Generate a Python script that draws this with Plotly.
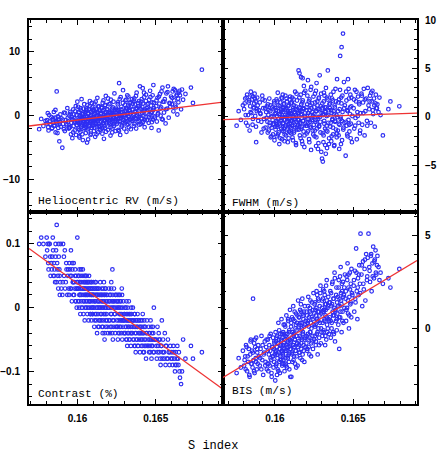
import plotly.graph_objects as go

# ---------------- data ----------------
s_index = [
    0.15755, 0.15768, 0.15782, 0.15795,
    0.15803, 0.15810, 0.15815, 0.15822, 0.15828, 0.15833, 0.15838, 0.15842, 0.15846, 0.15849,
    0.15853, 0.15857, 0.15860, 0.15863, 0.15867, 0.15870, 0.15874, 0.15877, 0.15880, 0.15884, 0.15887, 0.15890, 0.15893, 0.15897,
    0.15903, 0.15908, 0.15914, 0.15919, 0.15925, 0.15930, 0.15935, 0.15940, 0.15944, 0.15948,
    0.15952, 0.15955, 0.15958, 0.15961, 0.15964, 0.15967, 0.15970, 0.15973, 0.15976, 0.15979, 0.15982, 0.15985, 0.15988, 0.15991, 0.15993, 0.15995, 0.15997, 0.15999,
    0.16002, 0.16004, 0.16006, 0.16008, 0.16010, 0.16012, 0.16014, 0.16016, 0.16018, 0.16020, 0.16022, 0.16024, 0.16026, 0.16028, 0.16030, 0.16032, 0.16034, 0.16036, 0.16038, 0.16040, 0.16042, 0.16044, 0.16046, 0.16048,
    0.16051, 0.16053, 0.16055, 0.16057, 0.16059, 0.16061, 0.16063, 0.16065, 0.16067, 0.16069, 0.16071, 0.16073, 0.16075, 0.16077, 0.16079, 0.16081, 0.16083, 0.16085, 0.16087, 0.16089, 0.16091, 0.16093, 0.16095, 0.16096, 0.16098, 0.16099,
    0.16101, 0.16103, 0.16105, 0.16107, 0.16109, 0.16111, 0.16113, 0.16115, 0.16117, 0.16119, 0.16121, 0.16123, 0.16125, 0.16127, 0.16129, 0.16131, 0.16133, 0.16135, 0.16137, 0.16139, 0.16141, 0.16143, 0.16145, 0.16148,
    0.16151, 0.16153, 0.16155, 0.16157, 0.16159, 0.16161, 0.16163, 0.16165, 0.16167, 0.16169, 0.16171, 0.16173, 0.16175, 0.16177, 0.16179, 0.16181, 0.16183, 0.16185, 0.16188, 0.16191, 0.16194, 0.16197,
    0.16201, 0.16203, 0.16206, 0.16208, 0.16211, 0.16213, 0.16216, 0.16218, 0.16221, 0.16223, 0.16226, 0.16228, 0.16231, 0.16233, 0.16236, 0.16238, 0.16241, 0.16243, 0.16246, 0.16248,
    0.16251, 0.16253, 0.16256, 0.16258, 0.16261, 0.16263, 0.16266, 0.16268, 0.16271, 0.16273, 0.16276, 0.16278, 0.16281, 0.16283, 0.16286, 0.16288, 0.16291, 0.16293, 0.16296, 0.16298,
    0.16301, 0.16303, 0.16306, 0.16308, 0.16311, 0.16313, 0.16316, 0.16318, 0.16321, 0.16323, 0.16326, 0.16328, 0.16331, 0.16333, 0.16336, 0.16338, 0.16341, 0.16343, 0.16346, 0.16348,
    0.16351, 0.16354, 0.16357, 0.16360, 0.16363, 0.16366, 0.16369, 0.16372, 0.16375, 0.16378, 0.16381, 0.16384, 0.16387, 0.16390, 0.16393, 0.16395, 0.16397, 0.16399,
    0.16402, 0.16405, 0.16408, 0.16411, 0.16414, 0.16417, 0.16420, 0.16423, 0.16426, 0.16429, 0.16432, 0.16435, 0.16438, 0.16441, 0.16444, 0.16447,
    0.16452, 0.16455, 0.16458, 0.16461, 0.16464, 0.16467, 0.16470, 0.16473, 0.16476, 0.16479, 0.16482, 0.16485, 0.16488, 0.16492,
    0.16503, 0.16507, 0.16511, 0.16515, 0.16519, 0.16523, 0.16527, 0.16531, 0.16535, 0.16539, 0.16543, 0.16547,
    0.16553, 0.16558, 0.16563, 0.16568, 0.16573, 0.16578, 0.16583, 0.16588, 0.16593, 0.16598,
    0.16603, 0.16608, 0.16613, 0.16618, 0.16623, 0.16628, 0.16633, 0.16638, 0.16643, 0.16648,
    0.16655, 0.16662, 0.16668, 0.16675, 0.16690,
    0.16725, 0.16738, 0.16795,
    # second group of observations
    0.15806, 0.15813, 0.15819, 0.15826, 0.15836, 0.15844, 0.15851, 0.15859, 0.15866, 0.15872, 0.15879, 0.15886,
    0.15906, 0.15913, 0.15921, 0.15928, 0.15938, 0.15946, 0.15954, 0.15959, 0.15966, 0.15972, 0.15978, 0.15984, 0.15989, 0.15996,
    0.16003, 0.16007, 0.16011, 0.16015, 0.16019, 0.16023, 0.16027, 0.16031, 0.16035, 0.16039, 0.16043, 0.16045, 0.16047, 0.16049, 0.16050, 0.16013,
    0.16052, 0.16054, 0.16058, 0.16062, 0.16066, 0.16070, 0.16074, 0.16078, 0.16082, 0.16084, 0.16086, 0.16088, 0.16090, 0.16092, 0.16094, 0.16097, 0.16056, 0.16068,
    0.16102, 0.16104, 0.16108, 0.16110, 0.16112, 0.16116, 0.16118, 0.16120, 0.16122, 0.16126, 0.16128, 0.16132, 0.16134, 0.16136, 0.16138, 0.16142, 0.16144, 0.16147,
    0.16152, 0.16154, 0.16156, 0.16158, 0.16162, 0.16164, 0.16166, 0.16168, 0.16172, 0.16174, 0.16176, 0.16178, 0.16182, 0.16184, 0.16186, 0.16189, 0.16192, 0.16195,
    0.16202, 0.16205, 0.16207, 0.16210, 0.16212, 0.16215, 0.16217, 0.16220, 0.16222, 0.16225, 0.16227, 0.16230, 0.16232, 0.16235, 0.16240, 0.16245,
    0.16252, 0.16255, 0.16257, 0.16260, 0.16262, 0.16265, 0.16267, 0.16270, 0.16272, 0.16275, 0.16277, 0.16280, 0.16282, 0.16285, 0.16290, 0.16295,
    0.16302, 0.16305, 0.16307, 0.16310, 0.16312, 0.16315, 0.16317, 0.16320, 0.16322, 0.16325, 0.16327, 0.16330, 0.16332, 0.16335, 0.16340, 0.16345,
    0.16352, 0.16356, 0.16359, 0.16362, 0.16365, 0.16368, 0.16371, 0.16374, 0.16377, 0.16380, 0.16383, 0.16386, 0.16391, 0.16396,
    0.16403, 0.16407, 0.16410, 0.16413, 0.16416, 0.16419, 0.16422, 0.16425, 0.16428, 0.16431, 0.16437, 0.16443,
    0.16453, 0.16457, 0.16462, 0.16466, 0.16471, 0.16475, 0.16480, 0.16484, 0.16489, 0.16495,
    0.16505, 0.16513, 0.16521, 0.16529, 0.16537, 0.16545, 0.16555, 0.16565, 0.16575, 0.16590,
    0.16605, 0.16615, 0.16625, 0.16635, 0.16645, 0.16652,
]

rv = [
    -2.1, -0.5, -1.6, -0.8,
    -1.2, 0.4, -2.3, -0.9, -1.4, -0.2, -1.9, -0.6, -1.1, 0.6,
    -1.5, -0.3, -2.6, -0.8, 3.8, -1.2, -0.1, -1.9, -0.6, -4.0, -1.0, 0.2, -1.7, -0.4,
    -5.0, -1.3, 0.5, -2.4, -0.7, -1.5, 1.2, -0.9, -2.0, 0.0,
    -1.8, 0.3, -2.9, -1.1, -0.2, -3.5, -0.6, 1.0, -1.6, -0.4, -2.3, 0.7, -1.0, -3.0, 0.1, -1.4, -0.8, 2.2,
    -0.9, 1.4, -2.0, -0.3, -3.2, 0.5, -1.2, -0.1, -2.5, 0.9, -0.7, -1.7, 2.6, -0.4, -1.4, 0.2, -3.8, -0.8, 1.1, -2.1, -0.2, -1.0, 0.6, -1.5,
    -0.5, -2.7, 0.8, -1.3, -0.1, -4.2, 1.7, -0.9, 0.3, -2.0, -0.6, 1.0, -1.6, -0.3, 2.3, -1.1, -3.0, 0.1, -0.8, 0.6, -1.9, -0.4, 1.3, -1.2, -0.7, 0.9,
    -1.4, 0.7, -2.4, -0.2, 1.9, -0.9, -3.3, 0.4, -1.1, 1.1, -0.5, -1.8, 0.0, 2.8, -0.7, -2.6, 0.5, -1.3, 1.5, -0.4, -1.6, 0.8, -0.1, -2.1,
    0.3, -1.5, 1.2, -0.6, -2.8, 2.0, -0.2, -1.1, 0.9, -3.6, 0.1, -0.8, 1.6, -1.9, -0.3, 3.1, -1.2, 0.6, -0.5, 1.0, -2.2, 0.2,
    -0.7, 1.8, -1.4, 0.4, -3.1, 2.5, -0.1, -1.0, 0.8, -2.0, 1.3, -0.4, 0.1, -1.6, 3.5, -0.9, 0.5, -2.4, 1.1, -0.2,
    -1.3, 0.9, -0.5, 2.1, -2.2, 0.3, 5.1, -0.8, 0.0, -3.0, 2.9, -0.3, 1.0, -1.5, 0.6, -0.6, 4.0, -1.1, 0.2, -2.0,
    0.7, -1.2, 2.4, -0.4, 1.2, -2.5, 0.3, 3.2, -0.9, 1.6, -0.1, -1.8, 0.9, 2.0, -0.6, 0.4, -2.1, 1.4, -0.3, 2.6,
    -0.8, 1.9, 0.1, -1.6, 2.7, 0.6, -0.5, 1.1, -2.0, 3.6, 0.0, -1.0, 1.5, -0.2, 2.3, -1.4, 0.8, 4.6,
    0.3, -1.3, 2.2, -0.5, 1.4, 4.3, -0.9, 0.7, 2.9, -1.8, 1.0, -0.2, 3.3, 0.5, -0.7, 1.8,
    0.9, -1.1, 2.5, 0.2, 3.9, -0.4, 1.6, -1.9, 0.6, 2.1, -0.6, 4.8, 1.2, -0.1,
    1.5, -0.9, 2.8, 0.4, -2.3, 1.9, 3.4, 0.0, 1.3, -0.5, 4.4, 2.2,
    0.5, 2.6, -1.2, 3.5, 1.1, 4.6, -0.3, 2.0, 1.4, 3.0,
    1.8, 3.8, 0.7, 2.4, 4.0, 1.3, 3.1, 0.2, 2.7, 3.6,
    3.2, 1.0, 4.1, 2.5, 3.4,
    4.4, 2.0, 7.2,
    # second group
    -0.7, -1.8, 0.1, -1.3, -2.0, -0.4, -1.6, 0.9, -1.0, -2.7, -0.2, -1.3,
    -0.6, -2.1, 0.4, -1.3, -0.3, -1.9, 0.6, -1.1, -0.5, -2.6, 0.2, -0.9, 1.5, -1.5,
    -1.1, 0.6, -2.2, -0.5, 1.2, -1.5, -0.1, -2.9, 0.3, -0.8, 1.8, -1.9, -0.6, 0.4, -1.2, -3.4,
    -0.2, -1.7, 0.9, -1.0, -2.3, 0.4, -0.6, 1.5, -1.4, -0.1, -2.8, 0.7, -0.9, 2.0, -1.6, -0.3, 1.1, -3.7,
    -0.8, 1.0, -1.9, 0.2, -0.6, 2.2, -1.3, -0.1, -2.9, 0.6, -0.9, 1.4, -0.4, -1.7, 0.9, -0.2, -2.2, 0.3,
    -0.9, 1.3, -0.4, -2.0, 0.7, -1.2, 2.4, -0.2, -1.6, 0.5, -0.7, 1.7, -2.5, 0.0, -1.0, 1.0, -0.5, 2.7,
    -1.1, 0.6, -0.3, 1.9, -1.8, 0.2, -0.6, 1.1, -2.6, 0.4, -0.8, 2.2, -0.2, -1.3, 0.9, -0.5,
    0.5, -1.0, 1.8, -0.5, 0.9, -2.4, 0.2, 2.6, -0.9, 0.6, -0.3, 1.4, -1.7, 0.0, 2.0, -0.7,
    0.1, 1.7, -0.9, 0.8, 2.5, -0.4, 1.1, -1.4, 0.5, 3.0, -0.2, 1.3, -1.1, 0.7, 2.1, -0.5,
    1.0, -0.6, 2.4, 0.3, -1.3, 1.8, 0.6, 3.1, -0.4, 1.2, 0.0, 2.0, -0.8, 1.5,
    1.1, -0.4, 2.6, 0.4, -1.1, 1.9, 0.0, 3.6, 0.8, -0.6, 2.3, 1.2,
    1.9, -0.2, 1.0, 2.9, 0.4, -1.0, 3.2, 0.9, 2.0, -0.3,
    2.4, 0.2, 3.0, 1.1, 3.8, -0.6, 2.2, 1.0, 3.7, 1.9,
    2.8, 4.2, 1.6, 3.3, 2.1, 3.9,
]

fwhm = [
    -0.9, 0.6, -0.3, 1.2,
    0.8, 1.9, -0.6, 2.3, 0.2, 1.5, -1.4, 1.1, 2.6, 0.4,
    1.8, -0.8, 2.1, 0.9, 1.4, 2.4, 0.1, 1.6, -2.6, 0.6, 2.0, 1.2, -0.4, 0.7,
    1.5, 0.3, -1.6, 2.2, 0.9, -0.2, 1.7, -1.1, 0.5, 1.1,
    -0.5, 1.3, 0.2, -1.4, 1.9, -0.9, 0.6, -2.1, 0.0, -1.1, 1.0, -0.3, -1.8, 0.8, -0.7, 1.6, -2.4, 0.3,
    0.9, -1.3, 0.4, -0.6, 1.8, -2.0, 0.1, -1.0, 2.5, -0.2, 1.2, -1.6, 0.6, -2.8, 0.3, -0.9, 1.5, -0.4, 0.8, -1.2, 2.0, -0.1, -2.3, 1.0,
    -0.7, 0.5, -1.5, 1.3, -0.3, -2.5, 0.7, -1.1, 2.2, 0.0, -1.9, 0.9, -0.5, 1.6, -1.3, 0.2, -0.8, 1.1, -2.2, 0.4, -0.2, 1.8, -1.0, 0.6, -1.6, 0.1,
    -0.4, 1.4, -1.7, 0.3, -0.9, 2.0, 0.0, -2.4, 0.7, -0.6, 1.2, -1.4, 0.5, -0.2, 2.6, -1.1, 0.8, -2.9, 0.2, -0.5, 1.7, -1.3, 0.4, -0.8,
    4.8, -0.3, 1.0, 4.5, -1.9, 0.6, -0.7, 2.3, 4.1, -1.2, 0.3, -2.5, 1.5, 4.0, -0.4, 0.9, -1.5, 3.2, -3.1, 0.0, 2.7, -0.9,
    0.7, -1.7, 1.3, -0.2, 3.8, -0.6, 0.4, -2.3, 1.8, -1.0, 0.2, 2.8, -3.4, 0.9, -0.3, 1.4, -1.4, 0.1, 2.1, -0.8,
    1.0, -2.0, 2.4, -0.5, 0.6, -3.0, 3.5, -1.2, 1.6, -0.2, 0.8, -2.7, 2.0, -0.9, 4.3, 0.0, -1.6, 1.1, -3.6, 0.4,
    -4.3, 1.4, -4.6, 0.2, -1.9, 2.5, -0.7, 1.0, -2.9, 0.5, 3.0, -1.4, 0.1, -3.2, 1.8, 4.8, -0.6, 0.7, -2.2, 1.3,
    0.9, -1.0, 2.3, -2.5, 0.4, -0.3, 1.7, -1.8, 0.6, -3.0, 1.2, -0.5, 2.9, -1.3, 0.2, -2.1, 3.9, 0.0,
    -1.4, 1.5, -0.7, -3.3, 0.8, 6.3, -0.2, 2.0, 7.2, -2.4, 0.5, 8.6, -1.1, 3.6, -0.6, 1.2,
    -4.0, 2.6, -0.9, 0.7, -2.0, 3.9, -0.3, 1.9, -1.5, 0.3, 2.3, -0.7, 1.1, -2.6,
    0.9, -1.2, 2.8, -0.1, 1.6, -2.3, 0.5, 2.1, -0.6, 1.3, -1.7, 0.4,
    2.4, -0.8, 1.5, 2.9, -1.9, 0.6, 1.9, -0.4, 3.0, 1.2,
    0.8, 2.2, -0.6, 1.6, 2.7, 0.3, 1.9, -1.0, 1.4, 0.9,
    1.3, 0.5, 2.0, 0.2, -1.9,
    0.8, 1.6, 1.1,
    # second group
    1.4, 0.2, 2.0, -0.9, 1.7, 0.5, 2.2, -0.2, 1.0, 1.9, -1.0, 0.8,
    0.4, -0.5, 1.8, -1.2, 0.9, -0.1, -1.6, 0.7, -0.6, 1.2, -2.0, 0.1, -0.8, 1.4,
    -1.0, 0.7, -0.4, 1.6, -1.8, 0.3, -0.7, 1.1, -2.2, 0.5, -0.3, 1.9, -1.4, 0.0, 2.3, -0.8,
    0.9, -0.6, 1.4, -1.8, 0.2, -0.9, 1.9, -0.1, -2.6, 0.6, -0.4, 1.2, -1.5, 0.4, -0.7, 2.1, -1.2, 0.8,
    0.3, -1.1, 1.5, -0.4, -2.1, 0.9, -0.2, 1.8, -1.6, 0.5, -0.8, 1.1, -2.7, 0.0, 2.4, -1.0, 0.7, -0.3,
    0.4, -1.3, 2.0, -0.6, 0.9, -2.2, 0.2, 1.3, -1.0, 0.6, -2.8, 1.7, -0.4, 0.8, 2.5, -1.9, 0.1, -0.7,
    1.0, -0.9, 2.2, -1.5, 0.4, -0.2, 1.6, -2.6, 0.7, -0.5, 1.2, -1.1, 3.1, -0.1, 0.5, -1.8,
    0.3, -1.4, 1.5, -0.3, 2.7, -2.1, 0.6, -0.8, 1.2, -3.3, 0.0, 1.9, -1.0, 0.8, -0.5, 2.4,
    0.9, -1.7, 0.3, -2.6, 1.6, -0.4, 2.2, -1.2, 0.6, -3.8, 1.0, -0.9, 2.0, -1.5, 0.2, -2.8,
    1.4, -0.6, 0.7, -2.0, 1.9, -0.2, -1.1, 2.6, 0.3, -2.9, 1.0, -0.4, 1.6, -1.7,
    0.6, -1.9, 1.8, -0.8, 2.8, 0.0, -2.8, 1.4, -0.4, 2.2, -1.3, 0.9,
    -0.5, 1.7, -1.8, 0.6, 2.9, -0.8, 1.0, -2.2, 2.0, 0.1,
    1.8, -0.9, 2.6, 0.1, 1.5, -1.4, 2.2, 0.4, 1.8, -0.9,
    1.6, 2.5, 0.7, 1.2, 2.3, 0.9,
]

contrast = [
    0.10, 0.11, 0.10, 0.08,
    0.11, 0.10, 0.06, 0.10, 0.05, 0.07, 0.08, 0.11, 0.05, 0.07,
    0.06, 0.04, 0.10, 0.09, 0.13, 0.07, 0.05, 0.03, 0.08, 0.06, 0.02, 0.04, 0.10, 0.03,
    0.02, 0.10, 0.05, 0.09, 0.04, 0.06, 0.02, 0.06, 0.03, 0.07,
    0.06, 0.03, 0.09, 0.05, 0.01, 0.06, 0.04, 0.02, 0.07, 0.04, 0.03, 0.06, 0.01, 0.05, 0.03, 0.00, 0.04, 0.11,
    0.04, 0.01, 0.05, 0.03, 0.00, 0.06, 0.02, 0.04, -0.01, 0.03, 0.05, 0.01, 0.02, 0.04, 0.00, 0.03, 0.06, 0.02, -0.01, 0.04, 0.01, 0.03, -0.02, 0.05,
    0.02, 0.04, 0.00, 0.03, 0.05, 0.01, -0.01, 0.04, 0.02, 0.03, -0.02, 0.01, 0.04, 0.00, 0.02, -0.01, 0.03, 0.01, 0.04, -0.02, 0.02, 0.00, 0.03, -0.01, 0.01, 0.02,
    0.04, 0.00, 0.02, -0.03, 0.03, 0.01, -0.01, 0.04, 0.02, -0.02, 0.00, 0.03, -0.04, 0.01, 0.02, -0.01, 0.03, 0.00, -0.03, 0.02, 0.01, -0.02, 0.04, 0.00,
    0.02, -0.01, 0.03, -0.03, 0.01, -0.04, 0.02, 0.00, -0.02, 0.04, 0.01, -0.05, 0.02, -0.01, 0.03, -0.03, 0.00, 0.02, -0.02, 0.01, -0.04, 0.00,
    0.03, -0.02, 0.01, -0.04, 0.02, -0.01, 0.04, -0.03, 0.00, 0.06, -0.05, 0.01, -0.02, 0.03, -0.01, 0.00, -0.04, 0.02, -0.03, 0.01,
    0.00, -0.03, 0.02, -0.05, 0.01, -0.02, 0.00, -0.04, 0.02, -0.01, -0.03, 0.01, -0.02, 0.03, -0.05, 0.00, -0.02, 0.01, -0.04, -0.01,
    -0.01, -0.04, 0.00, -0.03, -0.05, 0.01, -0.02, -0.06, -0.01, -0.03, -0.04, 0.01, -0.02, -0.05, -0.01, -0.03, -0.06, 0.00, -0.04, -0.02,
    -0.03, 0.00, -0.05, -0.02, -0.06, -0.01, -0.04, -0.07, -0.02, -0.05, -0.03, -0.01, -0.06, -0.04, -0.02, -0.05, -0.03, -0.07,
    -0.04, -0.02, -0.06, -0.03, -0.05, -0.01, -0.07, -0.04, -0.02, -0.06, -0.03, -0.05, -0.08, -0.04, -0.02, -0.06,
    -0.05, -0.03, -0.07, -0.04, -0.06, -0.02, -0.05, -0.08, -0.04, -0.06, -0.03, -0.07, 0.00, -0.05,
    -0.05, -0.08, -0.03, -0.06, -0.04, -0.07, -0.05, -0.09, -0.06, -0.02, -0.08, -0.05,
    -0.07, -0.04, -0.09, -0.06, -0.08, -0.05, -0.07, -0.09, -0.06, -0.08,
    -0.07, -0.09, -0.06, -0.08, -0.10, -0.07, -0.09, -0.06, -0.08, -0.07,
    -0.11, -0.12, -0.10, -0.05, -0.08,
    -0.06, -0.08, -0.07,
    # second group
    0.09, 0.07, 0.10, 0.08, 0.06, 0.09, 0.05, 0.08, 0.04, 0.06, 0.10, 0.05,
    0.04, 0.08, 0.03, 0.07, 0.05, 0.02, 0.05, 0.03, 0.07, 0.04, 0.02, 0.05, 0.01, 0.03,
    0.03, 0.05, 0.01, 0.04, 0.02, 0.06, 0.00, 0.03, 0.05, 0.01, 0.03, 0.04, 0.02, 0.00, 0.05, 0.02,
    0.03, 0.01, 0.04, 0.02, 0.00, 0.03, 0.05, 0.01, 0.03, -0.01, 0.02, 0.04, 0.00, 0.02, 0.03, -0.01, 0.02, 0.04,
    0.02, 0.00, 0.03, -0.02, 0.01, 0.04, 0.02, -0.01, 0.03, 0.00, 0.02, -0.03, 0.01, 0.03, -0.02, 0.00, 0.02, -0.01,
    0.01, -0.02, 0.02, 0.00, -0.03, 0.03, 0.01, -0.01, 0.02, -0.04, 0.00, 0.03, -0.02, 0.01, -0.01, 0.02, -0.03, 0.00,
    0.01, -0.02, 0.02, -0.03, 0.00, 0.03, -0.01, 0.01, -0.04, 0.02, -0.02, 0.00, -0.03, 0.01, -0.01, 0.02,
    -0.02, 0.01, -0.03, 0.00, -0.04, 0.02, -0.01, -0.03, 0.01, -0.02, 0.00, -0.04, -0.01, 0.02, -0.03, -0.02,
    -0.02, -0.04, 0.00, -0.03, -0.01, -0.05, -0.02, 0.00, -0.04, -0.02, -0.03, -0.01, -0.05, -0.02, -0.04, -0.01,
    -0.04, -0.02, -0.05, -0.03, -0.01, -0.06, -0.03, -0.04, -0.02, -0.05, -0.03, -0.06, -0.02, -0.04,
    -0.03, -0.05, -0.04, -0.02, -0.06, -0.04, -0.03, -0.07, -0.05, -0.03, -0.06, -0.04,
    -0.06, -0.04, -0.05, -0.07, -0.03, -0.06, -0.05, -0.04, -0.07, -0.05,
    -0.06, -0.07, -0.05, -0.08, -0.06, -0.07, -0.08, -0.06, -0.08, -0.07,
    -0.08, -0.07, -0.09, -0.08, -0.09, -0.10,
]

bis = [
    -2.4, -1.6, -2.1, -1.2,
    -2.0, -1.5, -0.9, -2.3, -1.8, -1.1, -2.6, -1.4, -0.6, -1.9,
    -1.2, -2.1, 1.6, -1.7, -0.8, -2.4, -1.0, -1.6, -0.5, -2.2, -1.3, -1.9, -0.9, -1.5,
    -2.0, -1.1, -0.4, -1.7, -2.5, -1.3, -0.7, -1.8, -1.0, -2.2,
    -1.9, -0.6, -2.3, -1.4, -0.9, -2.0, -1.2, -0.3, -1.7, -2.6, -1.0, -1.5, -0.5, -2.1, -1.1, -1.8, -0.8, -1.4,
    -2.8, -0.2, -1.3, -0.7, -1.9, -1.0, -0.4, -1.6, -2.2, -0.8, 0.3, -1.3, -0.6, -1.8, -1.1, -2.4, -0.3, -1.5, -0.9, -1.7, 0.5, -1.2, -2.0, -0.5,
    -1.4, -0.2, -1.9, -0.8, -1.1, -2.3, 0.2, -0.6, -1.6, -0.4, -1.2, 0.7, -0.9, -2.1, -0.3, -1.5, -0.7, 0.4, -1.0, -1.8, -0.1, -1.3, -0.6, 1.0, -2.6, -0.8,
    -1.1, 0.1, -2.6, -0.5, 0.6, -1.4, -0.2, -0.9, 1.2, -1.7, -0.3, -1.0, 0.4, -0.6, -1.9, 0.0, -1.2, 0.8, -0.4, -1.5, 0.3, -0.8, -2.0, 1.5,
    -0.7, 0.6, -1.3, 0.2, -0.4, 1.0, -1.6, -0.1, 0.9, -1.1, 0.3, -0.6, 1.6, -1.4, -0.2, 0.7, -0.9, 0.1, -1.8, 1.2, -0.5, 0.4,
    -0.8, 0.9, -1.2, 0.3, -0.3, 1.7, -1.0, 0.6, -0.5, 1.1, -0.2, 0.8, -1.5, 0.0, 1.4, -0.7, 0.5, -1.1, 1.9, 0.2,
    -0.6, 1.3, 0.1, 1.0, -0.9, 0.7, 2.0, -0.3, 0.5, -1.4, 1.6, 0.0, 0.9, -0.5, 1.2, 0.3, 2.3, -0.8, 0.8, -0.2,
    1.5, -0.4, 0.9, 2.1, -0.2, 1.0, 0.4, 1.8, -0.9, 0.7, 1.3, -0.6, 2.6, 0.2, 1.1, 0.0, 1.7, 0.5, -0.3, 1.4,
    0.6, 2.0, -0.5, 1.2, 0.3, 2.4, 0.9, -0.2, 1.6, 0.7, 3.0, -0.7, 1.0, 0.4, 2.2, -0.1, 1.4, 0.8,
    1.7, 0.2, 2.6, -1.1, 1.2, 0.6, 3.3, 1.5, -0.2, 2.0, 0.9, 2.5, 0.3, 1.8, 1.1, 2.9,
    1.6, 0.4, 2.8, 1.1, 3.5, 0.8, 2.2, 0.0, 1.7, 3.0, 1.3, 2.4, 0.6, 1.9,
    2.3, 0.9, 3.1, 1.4, 4.3, 2.0, 0.5, 2.7, 1.8, 3.4, 2.4, 5.1,
    2.9, 1.2, 3.6, 2.1, 3.2, 1.5, 4.0, 2.6, 3.8, 5.1,
    3.3, 2.5, 3.9, 2.0, 3.5, 4.4, 2.7, 3.7, 4.2, 2.9,
    3.9, 3.3, 2.6, 3.0, 2.4,
    2.7, 2.2, 3.2,
    # second group
    -1.7, -2.2, -1.0, -1.5, -2.5, -0.7, -1.9, -1.3, -2.3, -0.6, -1.8, -1.1,
    -1.6, -2.2, -0.9, -1.4, -2.0, -0.6, -1.2, -1.9, -0.4, -1.6, -2.4, -1.0, -1.5, -0.7,
    -1.2, -2.0, -0.5, -1.4, -0.8, -2.3, -0.1, -1.1, -1.7, -0.6, -1.3, -0.3, -1.9, -0.9, -1.5, -2.5,
    -0.9, -1.7, -0.3, -1.2, 0.1, -2.0, -0.5, -1.0, -1.6, 0.5, -0.8, -1.4, -0.2, -2.2, -0.6, -1.1, 0.2, -1.9,
    -0.7, 0.3, -1.3, -0.2, -1.8, 0.5, -0.9, -0.4, -1.5, 0.9, -0.6, -1.2, 0.2, -2.1, -0.1, -0.8, 0.7, -1.0,
    0.1, -0.9, 0.6, -1.3, 0.3, -0.5, 1.3, -0.8, 0.0, -1.7, 0.8, -0.3, 0.5, -1.2, 0.9, -0.6, 0.2, -1.0,
    -0.4, 0.7, -1.1, 0.4, 1.2, -0.6, 0.1, -1.4, 0.9, -0.2, 1.5, 0.3, -0.8, 0.6, -0.4, 1.0,
    0.8, -0.4, 1.4, 0.2, -0.7, 1.1, 0.5, 1.8, -0.2, 0.9, 0.4, 1.5, -0.9, 0.7, 1.9, 0.0,
    1.1, 0.3, 1.6, -0.1, 0.9, 2.0, 0.5, 1.3, -0.4, 1.0, 2.3, 0.6, 1.5, -0.2, 1.2, 0.4,
    1.4, 0.4, 1.9, 0.0, 1.3, 2.5, 0.7, 1.6, -0.3, 1.1, 2.7, 0.9, 1.8, 0.5,
    1.2, 2.2, 0.6, 1.6, 2.8, 0.9, 1.9, 1.3, 2.4, 0.4, 1.7, 2.2,
    2.0, 1.0, 2.6, 1.5, 2.9, 0.7, 2.1, 1.4, 3.2, 1.8,
    2.6, 1.6, 3.0, 2.2, 2.9, 1.9, 3.4, 2.4, 3.7, 2.8,
    3.1, 4.0, 2.8, 3.6, 3.0, 3.4,
]

assert len(s_index) == len(rv) == len(fwhm) == len(contrast) == len(bis), (
    len(s_index), len(rv), len(fwhm), len(contrast), len(bis))

# fitted lines (end points read at the panel edges)
fit_x_left = [0.1569, 0.1693]
fit_x_right = [0.15668, 0.16908]
rv_fit = [-1.6, 2.12]
fwhm_fit = [-0.27, 0.4]
contrast_fit = [0.093, -0.128]
bis_fit = [-2.64, 3.65]

panel_labels = ["Heliocentric RV (m/s)", "FWHM (m/s)", "Contrast (%)", "BIS (m/s)"]
x_title = "S index"

# ---------------- figure ----------------
W, H = 439, 453
L, M, R = 29, 223, 417
T, C, B = 15, 209, 403

def fx(p):
    return p / W

def fy(p):
    return 1 - p / H

fig = go.Figure()
panels = [
    (rv, fit_x_left, rv_fit, "x", "y"),
    (fwhm, fit_x_right, fwhm_fit, "x2", "y2"),
    (contrast, fit_x_left, contrast_fit, "x3", "y3"),
    (bis, fit_x_right, bis_fit, "x4", "y4"),
]
for yv, lx, ly, xa, ya in panels:
    fig.add_trace(go.Scatter(
        x=s_index, y=yv, mode="markers", xaxis=xa, yaxis=ya, showlegend=False,
        marker=dict(symbol="circle-open", size=3.6, color="#2e2ef2", line=dict(width=1.2))))
    fig.add_trace(go.Scatter(
        x=lx, y=ly, mode="lines", xaxis=xa, yaxis=ya, showlegend=False,
        line=dict(color="#ee3333", width=1.3)))

tickfont = dict(family="Liberation Sans", size=10, color="black", weight="bold")
common = dict(showline=True, linecolor="black", linewidth=2, mirror="ticks",
              ticks="inside", ticklen=5, tickwidth=1, tickcolor="black",
              showgrid=False, zeroline=False, tickfont=tickfont,
              minor=dict(ticks="inside", ticklen=3, tickwidth=1, tickcolor="black", showgrid=False))

xcommon = dict(common, tickmode="linear", tick0=0.16, dtick=0.005)
xcommon["minor"] = dict(common["minor"], dtick=0.001, tick0=0.16)

fig.update_layout(
    width=W, height=H, margin=dict(l=0, r=0, t=0, b=0),
    paper_bgcolor="white", plot_bgcolor="white",
    xaxis=dict(xcommon, domain=[fx(L), fx(M)], anchor="y", range=fit_x_left, showticklabels=False),
    xaxis2=dict(xcommon, domain=[fx(M), fx(R)], anchor="y2", range=fit_x_right, showticklabels=False),
    xaxis3=dict(xcommon, domain=[fx(L), fx(M)], anchor="y3", range=fit_x_left, ticklabelstandoff=4),
    xaxis4=dict(xcommon, domain=[fx(M), fx(R)], anchor="y4", range=fit_x_right, ticklabelstandoff=4),
    yaxis=dict(common, domain=[fy(C), fy(T)], anchor="x", range=[-15, 15],
               tickmode="linear", tick0=0, dtick=10,
               minor=dict(common["minor"], dtick=2, tick0=0), ticklabelstandoff=5),
    yaxis2=dict(common, domain=[fy(C), fy(T)], anchor="x2", range=[-9.77, 10.02], side="right",
                tickmode="linear", tick0=0, dtick=5,
                minor=dict(common["minor"], dtick=1, tick0=0), ticklabelstandoff=4),
    yaxis3=dict(common, domain=[fy(B), fy(C)], anchor="x3", range=[-0.1505, 0.1507],
                tickmode="linear", tick0=0, dtick=0.1,
                minor=dict(common["minor"], dtick=0.02, tick0=0), ticklabelstandoff=5),
    yaxis4=dict(common, domain=[fy(B), fy(C)], anchor="x4", range=[-4.04, 6.28], side="right",
                tickmode="linear", tick0=0, dtick=5,
                minor=dict(common["minor"], dtick=1, tick0=0), ticklabelstandoff=4),
)

labfont = dict(family="Liberation Mono", size=11.2, color="black")
label_pos = [(36, 198), (230, 200), (36, 393), (230, 390)]
for text, (px_, py_) in zip(panel_labels, label_pos):
    fig.add_annotation(text=text, x=fx(px_), y=fy(py_), xref="paper", yref="paper",
                       xanchor="left", yanchor="middle", showarrow=False, font=labfont)
fig.add_annotation(text=x_title, x=fx(213), y=fy(446), xref="paper", yref="paper",
                   xanchor="center", yanchor="middle", showarrow=False,
                   font=dict(family="Liberation Mono", size=12, color="black"))

fig.write_html("out.html")
